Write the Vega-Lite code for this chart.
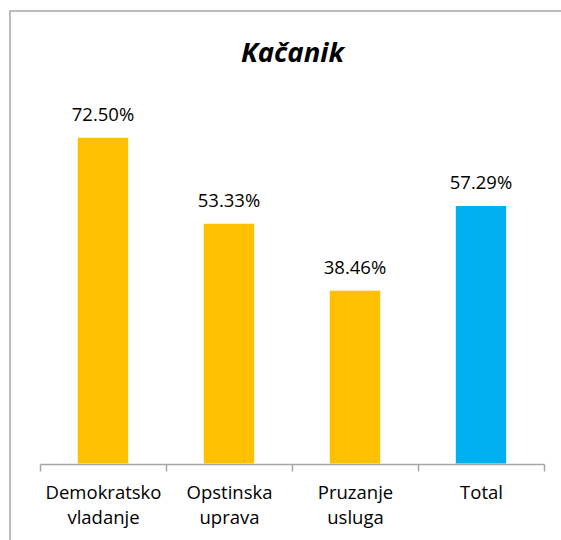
{
  "$schema": "https://vega.github.io/schema/vega-lite/v6.json",
  "width": 555,
  "height": 539,
  "autosize": {"type": "none"},
  "padding": {"left": 10, "top": 11, "right": 0, "bottom": 0},
  "background": "white",
  "config": {
    "view": {"stroke": "#a6a6a6", "strokeWidth": 1.5},
    "font": "Open Sans"
  },
  "title": {
    "text": "Kačanik",
    "font": "Open Sans",
    "fontSize": 27.5,
    "fontWeight": "bold",
    "fontStyle": "italic",
    "color": "#000000",
    "anchor": "middle",
    "baseline": "alphabetic",
    "offset": -78,
    "dx": 5
  },
  "data": {
    "values": [
      {"cat": "Demokratsko vladanje", "value": 0.725, "group": "a"},
      {"cat": "Opstinska uprava", "value": 0.5333, "group": "a"},
      {"cat": "Pruzanje usluga", "value": 0.3846, "group": "a"},
      {"cat": "Total", "value": 0.5729, "group": "b"}
    ]
  },
  "encoding": {
    "x": {
      "field": "cat",
      "type": "nominal",
      "sort": null,
      "scale": {"range": [30, 534], "paddingInner": 0, "paddingOuter": 0},
      "axis": {
        "title": null,
        "offset": -86,
        "labelAngle": 0,
        "labelExpr": "split(datum.label, ' ')",
        "labelFont": "Open Sans",
        "labelFontSize": 18.5,
        "labelColor": "#000000",
        "labelLineHeight": 25,
        "labelPadding": 12,
        "labelBaseline": "top",
        "tickBand": "extent",
        "tickSize": 7,
        "tickWidth": 1.5,
        "tickColor": "#a6a6a6",
        "domainColor": "#a6a6a6",
        "domainWidth": 1.5
      }
    },
    "y": {
      "field": "value",
      "type": "quantitative",
      "scale": {"domain": [-0.1925, 1.0069], "nice": false, "zero": false},
      "axis": null
    }
  },
  "layer": [
    {
      "mark": {"type": "bar", "width": {"band": 0.4}},
      "encoding": {
        "y2": {"datum": 0},
        "color": {
          "field": "group",
          "type": "nominal",
          "scale": {"domain": ["a", "b"], "range": ["#FFC000", "#00B0F0"]},
          "legend": null
        }
      }
    },
    {
      "mark": {"type": "text", "baseline": "alphabetic", "dy": -17, "fontSize": 18.5, "font": "Open Sans", "color": "#000000"},
      "encoding": {
        "text": {"field": "value", "type": "quantitative", "format": ".2%"}
      }
    }
  ]
}
